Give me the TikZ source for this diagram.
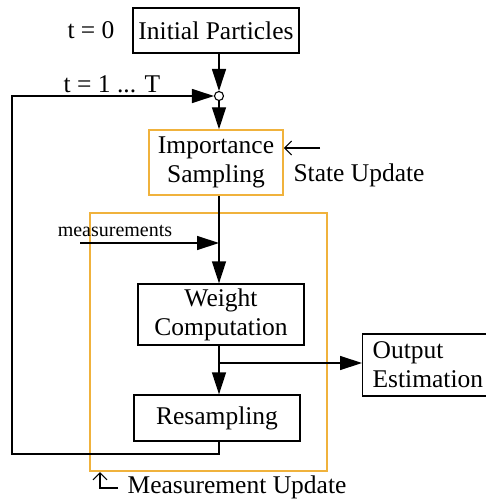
\documentclass[tikz,border=0pt]{standalone}
\usepackage{fontspec}
\setmainfont{Liberation Serif}
\usetikzlibrary{arrows.meta}
\definecolor{stageorange}{RGB}{240,178,60}
\tikzset{>={Triangle[length=22pt,width=14pt]}, % big filled heads on the flow
block/.style={draw, inner sep=0pt, align=center, font=\fontsize{25.5}{29}\selectfont}, % black boxes
stage/.style={draw=stageorange, line width=1.5pt, inner sep=0pt}, % orange boxes
lbl/.style={inner sep=0pt, font=\fontsize{25.5}{29}\selectfont}, % free text
barb/.style={-{Straight Barb[length=7pt,width=14pt]}, line width=1.1pt}, % open heads
}
\begin{document}
\begin{tikzpicture}[x=1pt,y=-1pt,line width=1.3pt]
\useasboundingbox (0,0) rectangle (486,503);
% orange stages
\node[stage, minimum width=237pt, minimum height=258pt] (mu) at (208.5,342) {};
\node[stage, block, draw=stageorange, minimum width=134pt, minimum height=65pt] (imp) at (216,162.5) {Importance\\Sampling};
% boxes
\node[block, minimum width=166pt, minimum height=45pt] (init) at (216,30.5) {Initial Particles};
\node[block, minimum width=166pt, minimum height=61pt] (wc) at (221,314.5) {Weight\\Computation};
\node[block, minimum width=166pt, minimum height=46pt] (rs) at (217,418) {Resampling};
\node[block, align=left, text width=114pt, inner xsep=10pt, minimum height=62pt, anchor=west] (oe) at (362,365) {Output\\Estimation};
\node[draw, circle, fill=white, inner sep=0pt, minimum size=9pt, line width=1.1pt] (jn) at (219,96) {};
% labels
\node[lbl] (t0) at (91,30) {t = 0};
\node[lbl] (t1) at (112,84) {t = 1 ... T};
\node[lbl] (su) at (359,175) {State Update};
\node[lbl] (mul) at (237,487) {Measurement Update};
\node[inner sep=0pt, font=\fontsize{20}{24}\selectfont] (ms) at (115,231) {measurements};
% helper points
\coordinate (lb) at (12,454);
\coordinate (mst) at (80,243);
\coordinate (br) at (219,363);
\coordinate (sut) at (320,148);
\coordinate (mut) at (118,488);
% flow
\draw[->] (init.south -| jn) -- (jn.north);
\draw[->] (jn.south) -- (imp.north -| jn);
\draw[->] (rs.south -| jn) |- (lb) |- (jn.west);
\draw[->] (imp.south -| jn) -- (wc.north -| jn);
\draw[->] (mst) -- (mst -| jn);
\draw[->] (wc.south -| jn) -- (rs.north -| jn);
\draw[->] (br) -- (oe.west |- br);
\draw[barb] (sut) -- (sut -| imp.east);
\draw[barb] (mut) -| (100,472);
\end{tikzpicture}
\end{document}
